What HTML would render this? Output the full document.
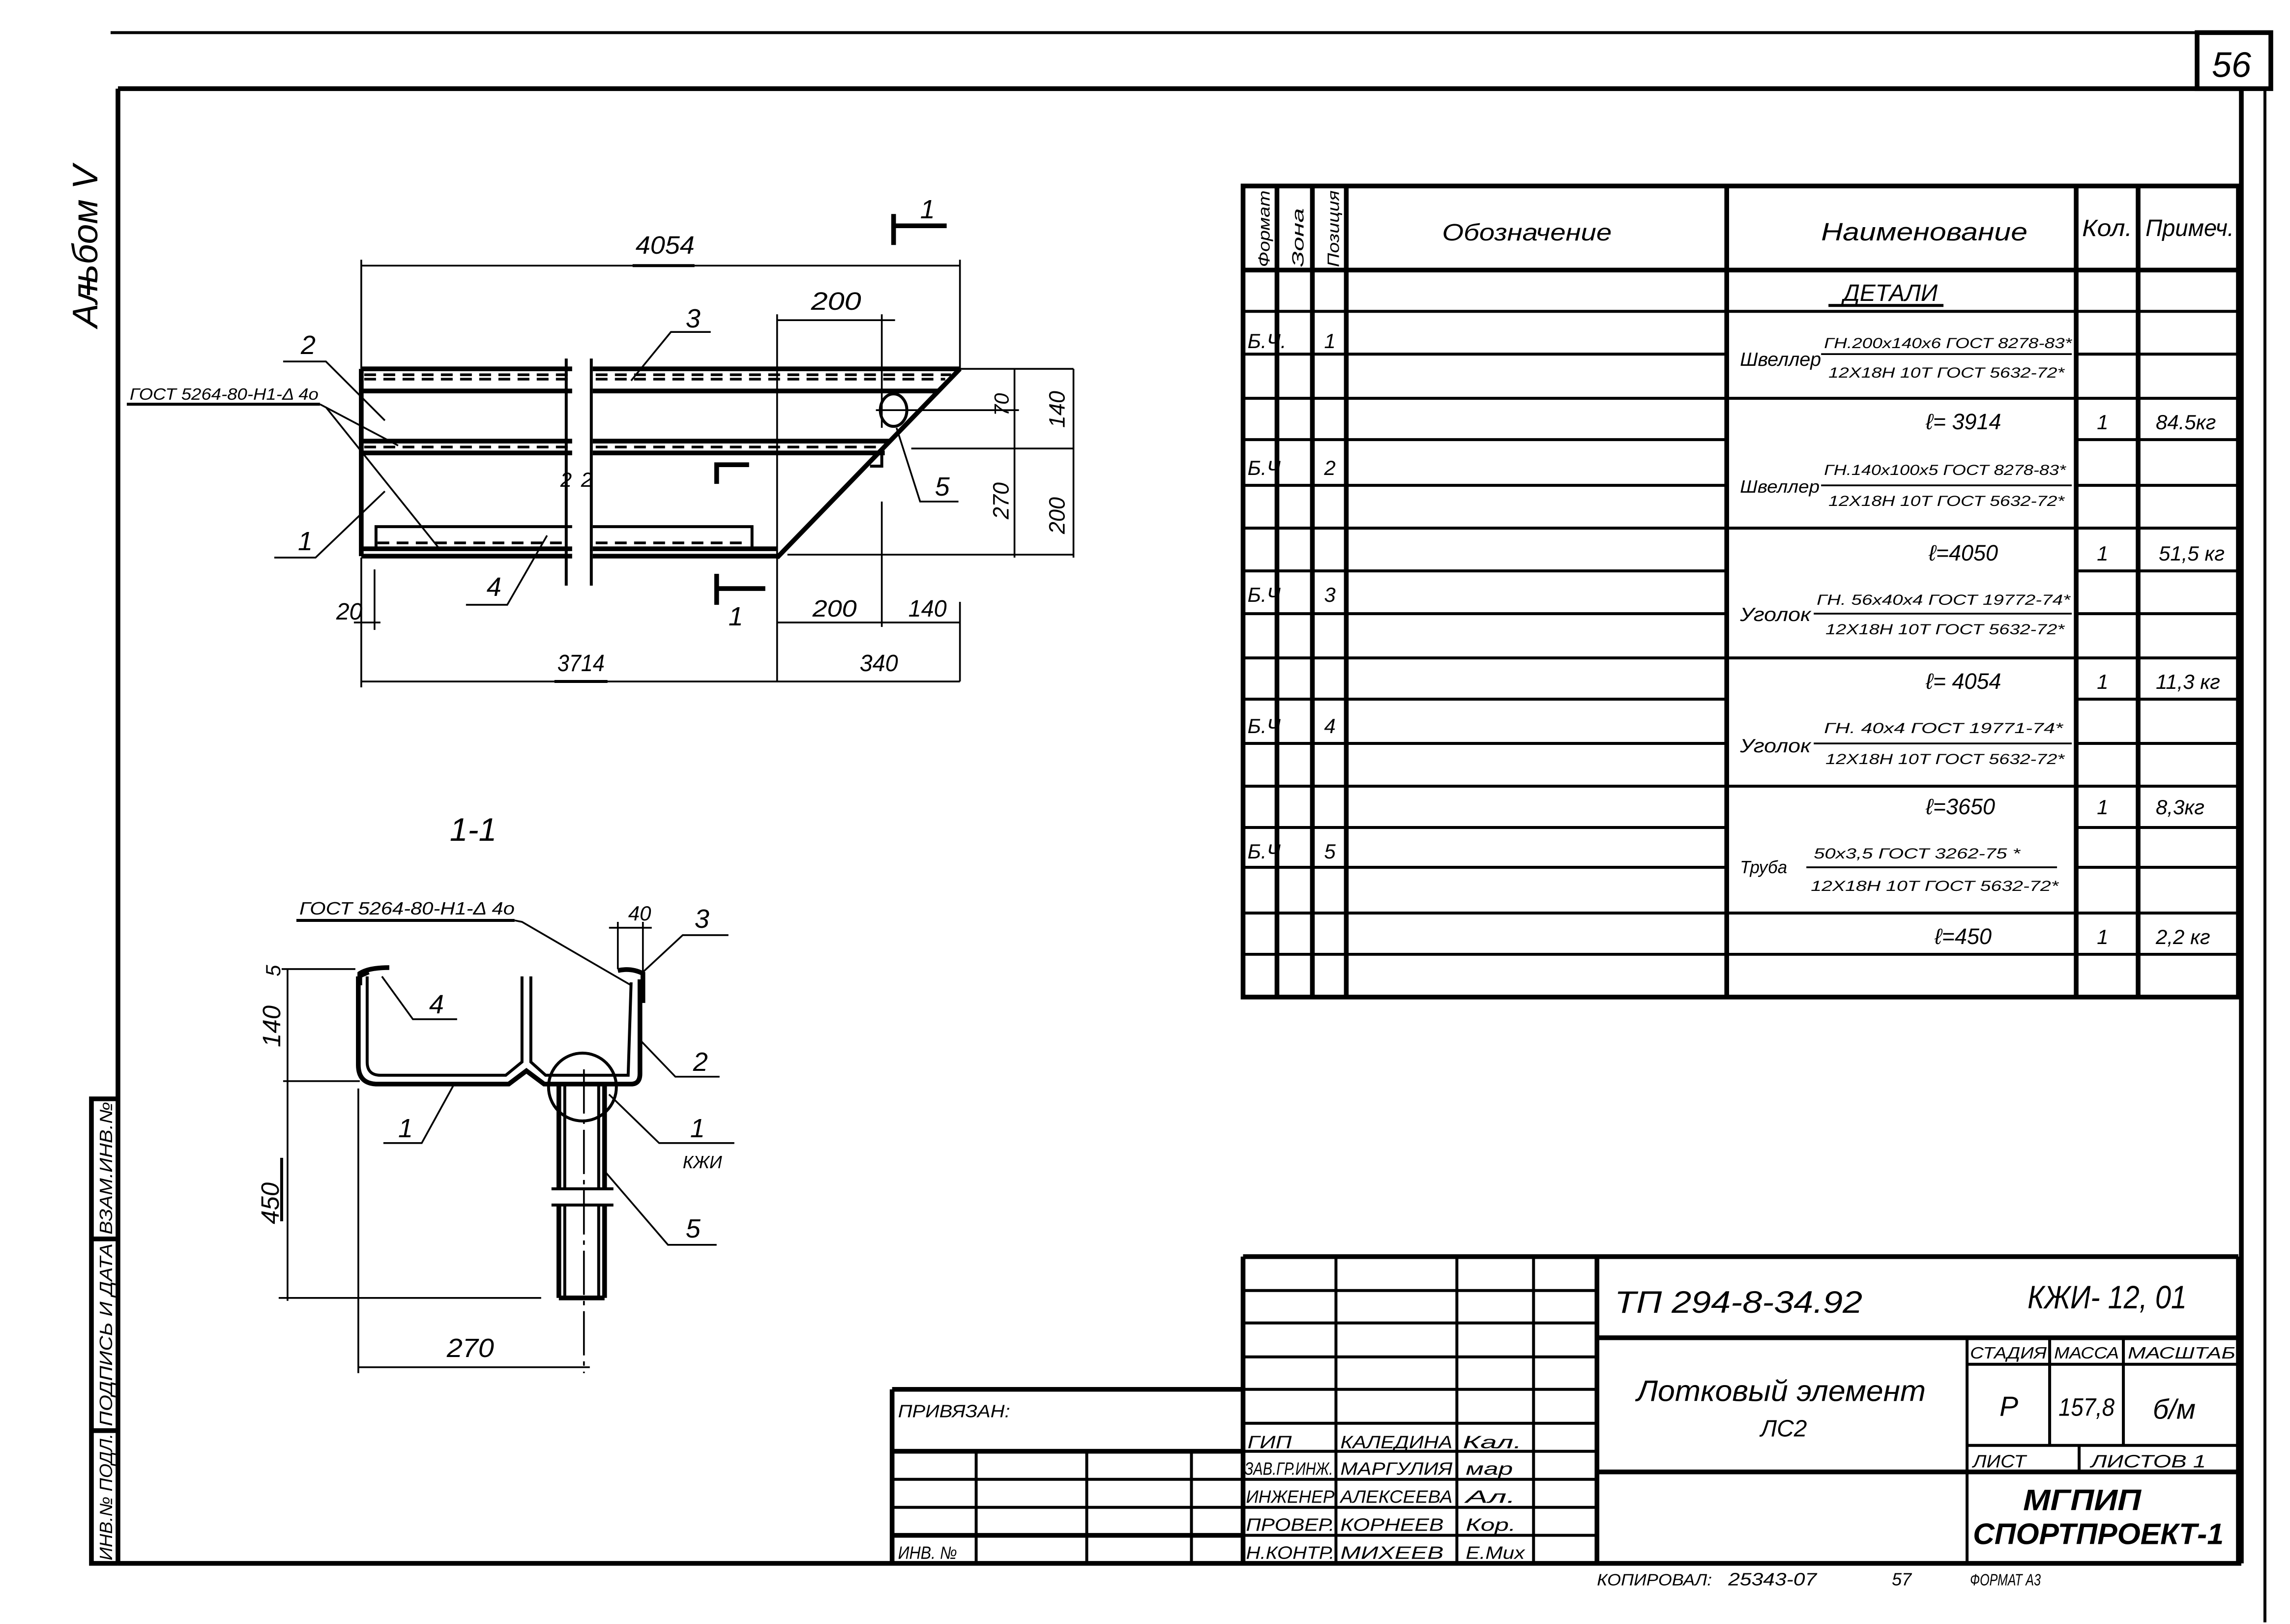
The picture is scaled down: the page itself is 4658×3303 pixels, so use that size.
<!DOCTYPE html>
<html><head><meta charset="utf-8"><style>
html,body{margin:0;padding:0;background:#fff}
svg{display:block}
text{font-family:"Liberation Sans","DejaVu Sans",sans-serif;font-style:italic;fill:#000}
.b{stroke:#000;stroke-width:3.2;fill:none}
.m{stroke:#000;stroke-width:2;fill:none}
.t{stroke:#000;stroke-width:1.2;fill:none}
.d{stroke:#000;stroke-width:1.8;fill:none;stroke-dasharray:8 5}
</style></head><body>
<svg width="4658" height="3303" viewBox="0 0 1553 1101" xmlns="http://www.w3.org/2000/svg">
<rect width="1553" height="1101" fill="#fff"/>
<!-- frame -->
<line class="m" x1="75" y1="22" x2="1490" y2="22"/>
<rect class="b" x="1490" y="22" width="50" height="38"/>
<text x="1500" y="52" font-size="24" font-style="normal">56</text>
<line class="b" x1="80" y1="60" x2="1520" y2="60"/>
<line class="b" x1="80" y1="60" x2="80" y2="1060"/>
<line class="b" x1="1520" y1="60" x2="1520" y2="1060"/>
<line class="b" x1="80" y1="1060" x2="1520" y2="1060"/>
<line class="m" x1="1536" y1="60" x2="1536" y2="1100"/>
<!-- left stamp strip -->
<polyline class="b" points="80,745 62,745 62,1060 80,1060"/>
<line class="b" x1="62" y1="840" x2="80" y2="840"/>
<line class="b" x1="62" y1="970" x2="80" y2="970"/>
<text transform="translate(76,1058) rotate(-90)" font-size="12" textLength="86" lengthAdjust="spacingAndGlyphs">ИНВ.№ ПОДЛ.</text>
<text transform="translate(76,967) rotate(-90)" font-size="12" textLength="124" lengthAdjust="spacingAndGlyphs">ПОДПИСЬ И ДАТА</text>
<text transform="translate(76,837) rotate(-90)" font-size="12" textLength="90" lengthAdjust="spacingAndGlyphs">ВЗАМ.ИНВ.№</text>
<text transform="translate(66,222) rotate(-90)" font-size="24" textLength="110" lengthAdjust="spacingAndGlyphs">Альбом V</text>
<line class="m" x1="60" y1="200" x2="60" y2="190"/>

<!-- ===== PLAN VIEW ===== -->
<g>
<line class="b" x1="245" y1="250" x2="388" y2="250"/><line class="b" x1="402" y1="250" x2="651" y2="250"/>
<line class="d" x1="247" y1="254" x2="385" y2="254"/><line class="d" x1="404" y1="254" x2="645" y2="254"/>
<line class="d" x1="247" y1="257" x2="385" y2="257"/><line class="d" x1="404" y1="257" x2="641" y2="257"/>
<line class="b" x1="245" y1="265" x2="388" y2="265"/><line class="b" x1="402" y1="265" x2="636" y2="265"/>
<line class="b" x1="245" y1="299" x2="388" y2="299"/><line class="b" x1="402" y1="299" x2="603" y2="299"/>
<line class="d" x1="247" y1="303" x2="385" y2="303"/><line class="d" x1="404" y1="303" x2="600" y2="303"/>
<line class="b" x1="245" y1="307" x2="388" y2="307"/><line class="b" x1="402" y1="307" x2="600" y2="307"/>
<polyline class="m" points="255,372 255,357 388,357"/><polyline class="m" points="402,357 510,357 510,372"/>
<line class="d" x1="256" y1="368" x2="385" y2="368"/><line class="d" x1="404" y1="368" x2="505" y2="368"/>
<line class="b" x1="245" y1="372" x2="388" y2="372"/><line class="b" x1="402" y1="372" x2="527" y2="372"/>
<line class="b" x1="245" y1="377" x2="388" y2="377"/><line class="b" x1="402" y1="377" x2="527" y2="377"/>
<line class="b" x1="245" y1="250" x2="245" y2="377"/>
<line class="b" x1="651" y1="250" x2="527" y2="378"/>
<line class="m" x1="384" y1="243" x2="384" y2="397"/><line class="m" x1="401" y1="243" x2="401" y2="397"/>
<text x="380" y="330" font-size="14">2</text><text x="394" y="330" font-size="14">2</text>
<ellipse class="m" cx="606" cy="278" rx="9" ry="11"/>
<line class="t" x1="594" y1="278" x2="691" y2="278"/>
<line class="t" x1="618" y1="304" x2="728" y2="304"/>
<line class="t" x1="534" y1="376" x2="728" y2="376"/>
<line class="t" x1="651" y1="250" x2="728" y2="250"/>
<polyline class="m" points="598,304 598,316 590,316"/>
<polyline class="b" points="508,315 486,315 486,328"/>
<!-- section marks -->
<line class="b" x1="606" y1="145" x2="606" y2="166"/><line class="b" x1="606" y1="153" x2="642" y2="153"/>
<text x="624" y="148" font-size="18">1</text>
<line class="b" x1="486" y1="389" x2="486" y2="410"/><line class="b" x1="486" y1="399" x2="519" y2="399"/>
<text x="494" y="424" font-size="18">1</text>
<!-- dims -->
<line class="t" x1="245" y1="180" x2="651" y2="180"/>
<line class="t" x1="245" y1="176" x2="245" y2="250"/><line class="t" x1="651" y1="176" x2="651" y2="250"/>
<text x="431" y="172" font-size="17" textLength="40" lengthAdjust="spacingAndGlyphs">4054</text>
<line class="m" x1="429" y1="180" x2="471" y2="180"/>
<line class="t" x1="527" y1="217" x2="607" y2="217"/>
<line class="t" x1="527" y1="213" x2="527" y2="462"/><line class="t" x1="598" y1="213" x2="598" y2="290"/>
<text x="550" y="210" font-size="17" textLength="34" lengthAdjust="spacingAndGlyphs">200</text>
<line class="t" x1="688" y1="250" x2="688" y2="378"/><line class="t" x1="728" y1="250" x2="728" y2="378"/>
<text transform="translate(684,282) rotate(-90)" font-size="14">70</text>
<text transform="translate(684,352) rotate(-90)" font-size="15">270</text>
<text transform="translate(722,290) rotate(-90)" font-size="15">140</text>
<text transform="translate(722,362) rotate(-90)" font-size="15">200</text>
<line class="t" x1="527" y1="422" x2="651" y2="422"/>
<line class="t" x1="598" y1="340" x2="598" y2="425"/>
<line class="t" x1="651" y1="408" x2="651" y2="462"/>
<text x="551" y="418" font-size="16" textLength="30" lengthAdjust="spacingAndGlyphs">200</text>
<text x="616" y="418" font-size="16" textLength="26" lengthAdjust="spacingAndGlyphs">140</text>
<line class="t" x1="245" y1="462" x2="651" y2="462"/>
<line class="t" x1="245" y1="378" x2="245" y2="466"/>
<text x="378" y="455" font-size="16" textLength="32" lengthAdjust="spacingAndGlyphs">3714</text>
<line class="m" x1="376" y1="462" x2="412" y2="462"/>
<text x="583" y="455" font-size="16" textLength="26" lengthAdjust="spacingAndGlyphs">340</text>
<line class="t" x1="254" y1="386" x2="254" y2="427"/>
<text x="228" y="420" font-size="16">20</text>
<line class="t" x1="240" y1="422" x2="258" y2="422"/>
<!-- leaders -->
<polyline class="t" points="608,290 624,340 650,340"/><text x="634" y="336" font-size="18">5</text>
<polyline class="t" points="428,258 455,225 482,225"/><text x="465" y="222" font-size="18">3</text>
<polyline class="t" points="192,245 221,245 261,285"/><text x="204" y="240" font-size="18">2</text>
<text x="88" y="271" font-size="11" textLength="128" lengthAdjust="spacingAndGlyphs">ГОСТ 5264-80-Н1-Δ 4о</text>
<line class="m" x1="86" y1="274" x2="217" y2="274"/>
<polyline class="t" points="217,274 270,302"/><polyline class="t" points="221,276 298,372"/>
<polyline class="t" points="186,378 214,378 261,333"/><text x="202" y="373" font-size="18">1</text>
<polyline class="t" points="316,410 344,410 371,363"/><text x="330" y="404" font-size="18">4</text>
</g>

<!-- ===== SECTION 1-1 ===== -->
<g>
<text x="305" y="570" font-size="22">1-1</text>
<text x="203" y="620" font-size="12" textLength="146" lengthAdjust="spacingAndGlyphs">ГОСТ 5264-80-Н1-Δ 4о</text>
<line class="m" x1="201" y1="624" x2="349" y2="624"/>
<polyline class="t" points="349,624 354,625 428,668"/>
<!-- channel 1 -->
<path class="b" d="M243,662 L243,722 Q243,735 256,735 L345,735 L357,726 L369,735 L428,735 Q434,735 434,728 L434,664"/>
<path class="m" d="M249,662 L249,720 Q249,729 258,729 L343,729 L354,720 L354,662"/>
<path class="m" d="M360,662 L360,720 L370,729 L426,729 L428,666"/>
<line class="b" x1="243" y1="662" x2="250" y2="659"/>
<path class="b" d="M244,668 L244,660 Q250,656 264,656"/>
<path class="b" d="M419,658 Q428,656 436,660 L436,680"/>
<!-- pipe -->
<line class="b" x1="379" y1="736" x2="379" y2="806"/><line class="b" x1="410" y1="736" x2="410" y2="806"/>
<line class="m" x1="383" y1="736" x2="383" y2="806"/><line class="m" x1="406" y1="736" x2="406" y2="806"/>
<line class="b" x1="379" y1="817" x2="379" y2="880"/><line class="b" x1="410" y1="817" x2="410" y2="880"/>
<line class="m" x1="383" y1="817" x2="383" y2="880"/><line class="m" x1="406" y1="817" x2="406" y2="880"/>
<line class="b" x1="379" y1="880" x2="410" y2="880"/>
<line class="m" x1="374" y1="806" x2="416" y2="806"/><line class="m" x1="374" y1="817" x2="416" y2="817"/>
<circle class="m" cx="395" cy="737" r="23"/>
<line class="t" x1="396" y1="725" x2="396" y2="931" stroke-dasharray="30 4 3 4"/>
<!-- dims -->
<line class="t" x1="195" y1="657" x2="195" y2="882"/>
<line class="t" x1="191" y1="657" x2="241" y2="657"/>
<line class="t" x1="192" y1="733" x2="244" y2="733"/>
<line class="t" x1="189" y1="880" x2="367" y2="880"/>
<text transform="translate(190,662) rotate(-90)" font-size="14">5</text>
<text transform="translate(190,710) rotate(-90)" font-size="17">140</text>
<text transform="translate(189,830) rotate(-90)" font-size="17">450</text>
<line class="m" x1="191" y1="785" x2="191" y2="828"/>
<line class="t" x1="243" y1="738" x2="243" y2="931"/>
<line class="t" x1="243" y1="927" x2="400" y2="927"/>
<text x="303" y="920" font-size="18" textLength="32" lengthAdjust="spacingAndGlyphs">270</text>
<line class="t" x1="413" y1="629" x2="442" y2="629"/>
<line class="t" x1="419" y1="625" x2="419" y2="657"/><line class="t" x1="436" y1="625" x2="436" y2="660"/>
<text x="426" y="624" font-size="14">40</text>
<!-- leaders -->
<polyline class="t" points="435,660 463,634 494,634"/><text x="471" y="629" font-size="18">3</text>
<polyline class="t" points="259,662 280,691 310,691"/><text x="291" y="687" font-size="18">4</text>
<polyline class="t" points="433,704 458,730 488,730"/><text x="470" y="726" font-size="18">2</text>
<polyline class="t" points="308,735 286,775 260,775"/><text x="270" y="771" font-size="18">1</text>
<polyline class="t" points="413,742 447,775 498,775"/><text x="468" y="771" font-size="18">1</text>
<text x="463" y="792" font-size="12">КЖИ</text>
<polyline class="t" points="410,794 453,844 486,844"/><text x="465" y="839" font-size="18">5</text>
</g>

<!-- ===== SPEC TABLE ===== -->
<g>
<rect class="b" x="843" y="126" width="675" height="550"/>
<line class="b" x1="866" y1="126" x2="866" y2="676"/>
<line class="b" x1="890" y1="126" x2="890" y2="676"/>
<line class="b" x1="913" y1="126" x2="913" y2="676"/>
<line class="b" x1="1171" y1="126" x2="1171" y2="676"/>
<line class="b" x1="1408" y1="126" x2="1408" y2="676"/>
<line class="b" x1="1450" y1="126" x2="1450" y2="676"/>
<line class="b" x1="843" y1="183" x2="1518" y2="183"/>
<g class="m">
<path d="M843,211H1518 M843,240H1171 M1408,240H1518 M843,270H1518 M843,298H1171 M1408,298H1518 M843,329H1171 M1408,329H1518 M843,358H1518 M843,387H1171 M1408,387H1518 M843,416H1171 M1408,416H1518 M843,446H1518 M843,474H1171 M1408,474H1518 M843,504H1171 M1408,504H1518 M843,533H1518 M843,561H1171 M1408,561H1518 M843,588H1171 M1408,588H1518 M843,619H1518 M843,647H1518"/>
</g>
<text transform="translate(861,181) rotate(-90)" font-size="11" textLength="52" lengthAdjust="spacingAndGlyphs">Формат</text>
<text transform="translate(884,181) rotate(-90)" font-size="11" textLength="40" lengthAdjust="spacingAndGlyphs">Зона</text>
<text transform="translate(908,181) rotate(-90)" font-size="11" textLength="52" lengthAdjust="spacingAndGlyphs">Позиция</text>
<text x="978" y="163" font-size="16" textLength="115" lengthAdjust="spacingAndGlyphs">Обозначение</text>
<text x="1235" y="163" font-size="17" textLength="140" lengthAdjust="spacingAndGlyphs">Наименование</text>
<text x="1412" y="160" font-size="16" textLength="34" lengthAdjust="spacingAndGlyphs">Кол.</text>
<text x="1455" y="160" font-size="16" textLength="60" lengthAdjust="spacingAndGlyphs">Примеч.</text>
<text x="1250" y="204" font-size="16" textLength="64" lengthAdjust="spacingAndGlyphs">ДЕТАЛИ</text>
<line class="m" x1="1240" y1="207" x2="1318" y2="207"/>
<!-- rows -->
<g font-size="14">
<text x="846" y="236">Б.Ч.</text><text x="898" y="236">1</text>
<text x="1180" y="248" font-size="13" textLength="55" lengthAdjust="spacingAndGlyphs">Швеллер</text>
<text x="1237" y="236" font-size="10" textLength="168" lengthAdjust="spacingAndGlyphs">ГН.200х140х6 ГОСТ 8278-83*</text>
<line class="t" x1="1235" y1="240" x2="1405" y2="240"/>
<text x="1240" y="256" font-size="10" textLength="160" lengthAdjust="spacingAndGlyphs">12Х18Н 10Т ГОСТ 5632-72*</text>
<text x="1306" y="291" font-size="15">ℓ= 3914</text><text x="1422" y="291">1</text><text x="1462" y="291">84.5кг</text>

<text x="846" y="322">Б.Ч</text><text x="898" y="322">2</text>
<text x="1180" y="334" font-size="12" textLength="54" lengthAdjust="spacingAndGlyphs">Швеллер</text>
<text x="1237" y="322" font-size="10" textLength="164" lengthAdjust="spacingAndGlyphs">ГН.140х100х5 ГОСТ 8278-83*</text>
<line class="t" x1="1235" y1="329" x2="1405" y2="329"/>
<text x="1240" y="343" font-size="10" textLength="160" lengthAdjust="spacingAndGlyphs">12Х18Н 10Т ГОСТ 5632-72*</text>
<text x="1308" y="380" font-size="15">ℓ=4050</text><text x="1422" y="380">1</text><text x="1464" y="380">51,5 кг</text>

<text x="846" y="408">Б.Ч</text><text x="898" y="408">3</text>
<text x="1180" y="421" font-size="13" textLength="48" lengthAdjust="spacingAndGlyphs">Уголок</text>
<text x="1232" y="410" font-size="10" textLength="172" lengthAdjust="spacingAndGlyphs">ГН. 56х40х4 ГОСТ 19772-74*</text>
<line class="t" x1="1230" y1="416" x2="1405" y2="416"/>
<text x="1238" y="430" font-size="10" textLength="162" lengthAdjust="spacingAndGlyphs">12Х18Н 10Т ГОСТ 5632-72*</text>
<text x="1306" y="467" font-size="15">ℓ= 4054</text><text x="1422" y="467">1</text><text x="1462" y="467">11,3 кг</text>

<text x="846" y="497">Б.Ч</text><text x="898" y="497">4</text>
<text x="1180" y="510" font-size="13" textLength="48" lengthAdjust="spacingAndGlyphs">Уголок</text>
<text x="1237" y="497" font-size="10" textLength="162" lengthAdjust="spacingAndGlyphs">ГН. 40х4 ГОСТ 19771-74*</text>
<line class="t" x1="1230" y1="504" x2="1405" y2="504"/>
<text x="1238" y="518" font-size="10" textLength="162" lengthAdjust="spacingAndGlyphs">12Х18Н 10Т ГОСТ 5632-72*</text>
<text x="1306" y="552" font-size="15">ℓ=3650</text><text x="1422" y="552">1</text><text x="1462" y="552">8,3кг</text>

<text x="846" y="582">Б.Ч</text><text x="898" y="582">5</text>
<text x="1180" y="592" font-size="12" textLength="32" lengthAdjust="spacingAndGlyphs">Труба</text>
<text x="1230" y="582" font-size="10" textLength="140" lengthAdjust="spacingAndGlyphs">50х3,5 ГОСТ 3262-75 *</text>
<line class="t" x1="1225" y1="588" x2="1395" y2="588"/>
<text x="1228" y="604" font-size="10" textLength="168" lengthAdjust="spacingAndGlyphs">12Х18Н 10Т ГОСТ 5632-72*</text>
<text x="1312" y="640" font-size="15">ℓ=450</text><text x="1422" y="640">1</text><text x="1462" y="640">2,2 кг</text>
</g>
</g>

<!-- ===== TITLE BLOCK ===== -->
<g>
<line class="b" x1="843" y1="852" x2="1518" y2="852"/>
<line class="b" x1="843" y1="852" x2="843" y2="1060"/>
<line class="m" x1="906" y1="852" x2="906" y2="1060"/>
<line class="m" x1="988" y1="852" x2="988" y2="1060"/>
<line class="m" x1="1040" y1="852" x2="1040" y2="1060"/>
<line class="b" x1="1083" y1="852" x2="1083" y2="1060"/>
<line class="b" x1="1518" y1="852" x2="1518" y2="1060"/>
<g class="m"><path d="M843,875H1083 M843,897H1083 M843,920H1083 M843,942H1083 M843,965H1083 M843,984H1083 M843,1003H1083 M843,1022H1083 M843,1041H1083"/></g>
<line class="b" x1="1083" y1="907" x2="1518" y2="907"/>
<line class="b" x1="1083" y1="998" x2="1518" y2="998"/>
<line class="m" x1="1334" y1="907" x2="1334" y2="1060"/>
<line class="m" x1="1334" y1="925" x2="1518" y2="925"/>
<line class="m" x1="1390" y1="907" x2="1390" y2="980"/>
<line class="m" x1="1440" y1="907" x2="1440" y2="980"/>
<line class="m" x1="1334" y1="980" x2="1518" y2="980"/>
<line class="m" x1="1410" y1="980" x2="1410" y2="998"/>
<text x="1095" y="890" font-size="21" textLength="168" lengthAdjust="spacingAndGlyphs">ТП 294-8-34.92</text>
<text x="1375" y="887" font-size="22" textLength="108" lengthAdjust="spacingAndGlyphs">КЖИ- 12, 01</text>
<text x="1110" y="950" font-size="20" textLength="196" lengthAdjust="spacingAndGlyphs">Лотковый элемент</text>
<text x="1194" y="974" font-size="16">ЛС2</text>
<text x="1336" y="921" font-size="11" textLength="52" lengthAdjust="spacingAndGlyphs">СТАДИЯ</text>
<text x="1393" y="921" font-size="11" textLength="44" lengthAdjust="spacingAndGlyphs">МАССА</text>
<text x="1443" y="921" font-size="11" textLength="73" lengthAdjust="spacingAndGlyphs">МАСШТАБ</text>
<text x="1356" y="960" font-size="19">Р</text>
<text x="1396" y="960" font-size="17" textLength="38" lengthAdjust="spacingAndGlyphs">157,8</text>
<text x="1460" y="962" font-size="19">б/м</text>
<text x="1338" y="995" font-size="12" textLength="36" lengthAdjust="spacingAndGlyphs">ЛИСТ</text>
<text x="1418" y="995" font-size="12" textLength="78" lengthAdjust="spacingAndGlyphs">ЛИСТОВ  1</text>
<text x="1372" y="1024" font-size="20" font-style="normal" font-weight="bold" textLength="80" lengthAdjust="spacingAndGlyphs">МГПИП</text>
<text x="1338" y="1047" font-size="20" font-style="normal" font-weight="bold" textLength="170" lengthAdjust="spacingAndGlyphs">СПОРТПРОЕКТ-1</text>
<g font-size="12">
<text x="846" y="982" textLength="30" lengthAdjust="spacingAndGlyphs">ГИП</text>
<text x="909" y="982" textLength="76" lengthAdjust="spacingAndGlyphs">КАЛЕДИНА</text>
<text x="992" y="982" textLength="40" lengthAdjust="spacingAndGlyphs">Кал.</text>
<text x="844" y="1000" textLength="60" lengthAdjust="spacingAndGlyphs">ЗАВ.ГР.ИНЖ.</text>
<text x="909" y="1000" textLength="76" lengthAdjust="spacingAndGlyphs">МАРГУЛИЯ</text>
<text x="994" y="1000" textLength="32" lengthAdjust="spacingAndGlyphs">мар</text>
<text x="845" y="1019" textLength="60" lengthAdjust="spacingAndGlyphs">ИНЖЕНЕР</text>
<text x="909" y="1019" textLength="76" lengthAdjust="spacingAndGlyphs">АЛЕКСЕЕВА</text>
<text x="994" y="1019" textLength="34" lengthAdjust="spacingAndGlyphs">Ал.</text>
<text x="845" y="1038" textLength="60" lengthAdjust="spacingAndGlyphs">ПРОВЕР.</text>
<text x="909" y="1038" textLength="70" lengthAdjust="spacingAndGlyphs">КОРНЕЕВ</text>
<text x="994" y="1038" textLength="34" lengthAdjust="spacingAndGlyphs">Кор.</text>
<text x="845" y="1057" textLength="60" lengthAdjust="spacingAndGlyphs">Н.КОНТР.</text>
<text x="909" y="1057" textLength="70" lengthAdjust="spacingAndGlyphs">МИХЕЕВ</text>
<text x="994" y="1057" textLength="40" lengthAdjust="spacingAndGlyphs">Е.Мих</text>
</g>
<!-- privyazan -->
<line class="b" x1="605" y1="942" x2="843" y2="942"/>
<line class="b" x1="605" y1="942" x2="605" y2="1060"/>
<line class="b" x1="605" y1="984" x2="843" y2="984"/>
<line class="m" x1="605" y1="1003" x2="843" y2="1003"/>
<line class="m" x1="605" y1="1022" x2="843" y2="1022"/>
<line class="b" x1="605" y1="1041" x2="843" y2="1041"/>
<line class="m" x1="662" y1="984" x2="662" y2="1060"/>
<line class="m" x1="737" y1="984" x2="737" y2="1060"/>
<line class="m" x1="808" y1="984" x2="808" y2="1060"/>
<text x="609" y="961" font-size="12" textLength="76" lengthAdjust="spacingAndGlyphs">ПРИВЯЗАН:</text>
<text x="609" y="1057" font-size="12" textLength="40" lengthAdjust="spacingAndGlyphs">ИНВ. №</text>
<text x="1083" y="1075" font-size="11" textLength="78" lengthAdjust="spacingAndGlyphs">КОПИРОВАЛ:</text>
<text x="1172" y="1075" font-size="12" textLength="60" lengthAdjust="spacingAndGlyphs">25343-07</text>
<text x="1283" y="1075" font-size="12">57</text>
<text x="1336" y="1075" font-size="11" textLength="48" lengthAdjust="spacingAndGlyphs">ФОРМАТ А3</text>
</g>
</svg>
</body></html>
